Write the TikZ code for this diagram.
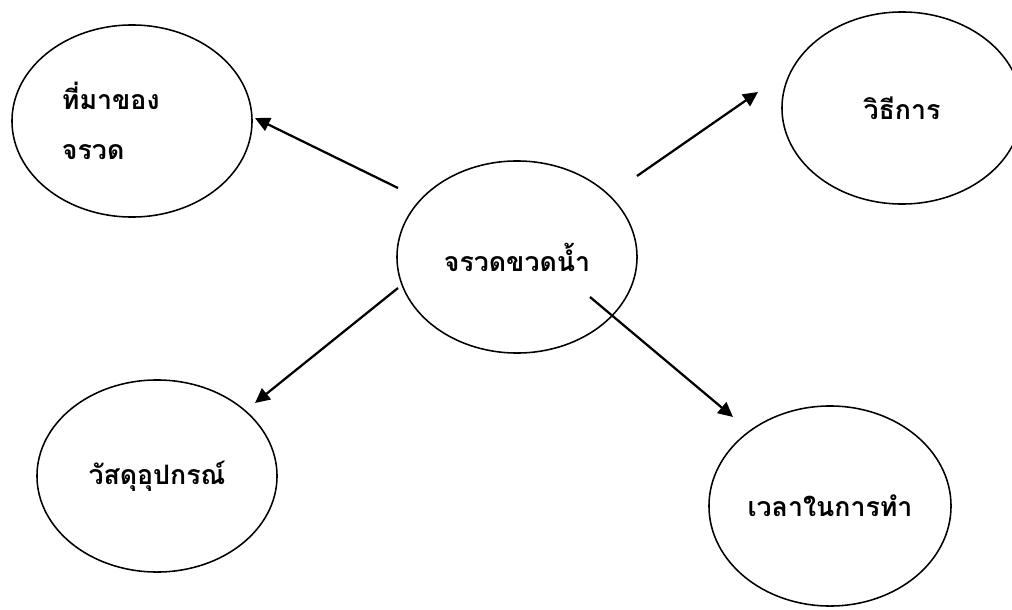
\documentclass[tikz,border=0pt]{standalone}
\usepackage{fontspec}
\newfontfamily\thaifont[Script=Thai]{Loma}
\usetikzlibrary{shapes.geometric, arrows.meta}

\begin{document}
\begin{tikzpicture}[
      x=0.025cm, y=-0.025cm,
      topic/.style={ellipse, draw, line width=1.1pt, inner sep=0pt, outer sep=0pt, minimum width=6cm, minimum height=4.8cm, align=center, font=\thaifont\bfseries\fontsize{19}{36}\selectfont},
      arrow/.style={-{Triangle[length=10.5pt, width=10pt]}, line width=1.6pt}
    ]
    \useasboundingbox (0,0) rectangle (1012,610);

    \node[topic] (main) at (517,257) {จรวดขวดน้ำ};

    \node[topic, text width=3.5cm, align=left] (origin) at (132,121) {ที่มาของ\\จรวด};
    \node[topic] (method) at (902,108) {วิธีการ};
    \node[topic] (material) at (157,476) {วัสดุอุปกรณ์};
    \node[topic, minimum width=6.05cm, minimum height=5cm] (time) at (830,506) {เวลาในการทำ};

    % free ends of the arrows
    \coordinate (s1) at (398,188);
    \coordinate (e1) at (255,118);
    \coordinate (s2) at (637,176);
    \coordinate (e2) at (758,92);
    \coordinate (s3) at (398,288);
    \coordinate (e3) at (255,403);
    \coordinate (s4) at (590,297);
    \coordinate (e4) at (733,417);

    \draw[arrow] (s1) -- (e1);
    \draw[arrow] (s2) -- (e2);
    \draw[arrow] (s3) -- (e3);
    \draw[arrow] (s4) -- (e4);
  \end{tikzpicture}
\end{document}
